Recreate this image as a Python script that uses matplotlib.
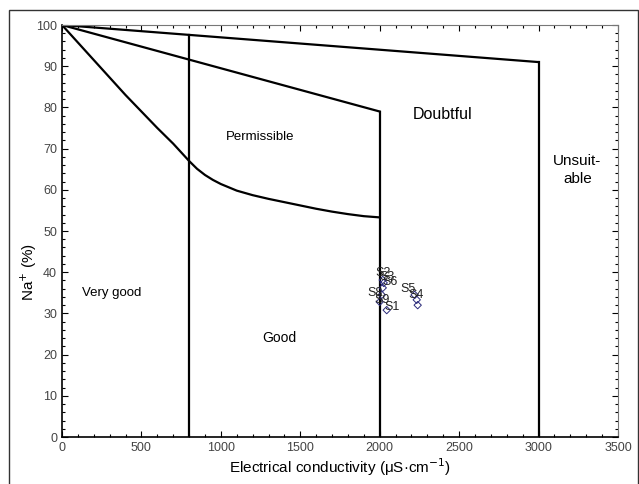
import numpy as np
import matplotlib.pyplot as plt
from matplotlib.patches import Rectangle
from matplotlib.ticker import MultipleLocator

plt.rcParams['font.family'] = ['Liberation Sans', 'DejaVu Sans']

# Boundary lines of the Wilcox-type diagram
top_x = [0, 3000]
top_y = [100, 91]
mid_x = [0, 2000]
mid_y = [100, 79]
low_x = [0, 200, 400, 600, 700, 750, 800, 850, 900, 950, 1000, 1100, 1200,
         1300, 1400, 1500, 1600, 1700, 1800, 1900, 2000]
low_y = [100, 91.5, 83, 75, 71.2, 69.1, 67, 65.1, 63.6, 62.4, 61.4, 59.8, 58.7,
         57.8, 57, 56.2, 55.4, 54.7, 54.1, 53.6, 53.3]

# vertical limits (x, top y)
vert_x = [800, 2000, 3000]
vert_top = [97.6, 78.8, 91]

# samples
sample_ec = [2019, 2025, 2019, 2013, 2000, 2044, 2220, 2233, 2239]
sample_na = [38.1, 37.4, 36.2, 34.5, 32.8, 30.8, 34.5, 33.3, 32.0]
sample_lbl = ['S2', 'S3', 'S6', 'S8', 'S9', 'S1', 'S5', 'S4', '']

fig = plt.figure(figsize=(6.39, 4.84), dpi=100)
fig.patches.append(Rectangle((9 / 639, -0.05), 629 / 639, 1.05 - 10 / 484,
                             transform=fig.transFigure, fill=False,
                             edgecolor='#333333', linewidth=1))
ax = fig.add_axes([62 / 639, 1 - 437 / 484, 556 / 639, 412 / 484])

ax.plot(top_x, top_y, color='black', lw=1.6)
ax.plot(mid_x, mid_y, color='black', lw=1.6)
ax.plot(low_x, low_y, color='black', lw=1.6)
for x, t in zip(vert_x, vert_top):
    ax.plot([x, x], [0, t], color='black', lw=1.6)

ax.scatter(sample_ec, sample_na, marker='D', s=14, facecolor='none',
           edgecolor='#2a2a7a', linewidth=0.7, zorder=3)
offsets = {'S2': (-5, 3), 'S3': (-3, 2), 'S6': (0, 2), 'S8': (-10, -1),
           'S9': (-4, -1), 'S1': (-2, 0), 'S5': (-10, 2), 'S4': (-6, 1)}
for x, y, l in zip(sample_ec, sample_na, sample_lbl):
    if l:
        dx, dy = offsets[l]
        ax.annotate(l, (x, y), xytext=(dx, dy), textcoords='offset points',
                    fontsize=9, color='#222222')

ax.text(1245, 72.8, 'Permissible', fontsize=9.5, ha='center', va='center')
ax.text(2396, 78.2, 'Doubtful', fontsize=11.5, ha='center', va='center')
ax.text(3245, 64.8, 'Unsuit-\nable', fontsize=11, ha='center', va='center',
        linespacing=1.3)
ax.text(315, 35, 'Very good', fontsize=9.5, ha='center', va='center')
ax.text(1371, 24, 'Good', fontsize=10, ha='center', va='center')

ax.set_xlim(0, 3500)
ax.set_ylim(0, 100)
ax.xaxis.set_major_locator(MultipleLocator(500))
ax.xaxis.set_minor_locator(MultipleLocator(100))
ax.yaxis.set_major_locator(MultipleLocator(10))
ax.yaxis.set_minor_locator(MultipleLocator(2))
ax.tick_params(which='both', direction='in', top=True, right=True,
               labelsize=9, labelcolor='#444444', width=0.8)
ax.tick_params(which='major', length=4)
ax.tick_params(which='minor', length=2)
for s in ['top', 'right']:
    ax.spines[s].set_color('#777777')
    ax.spines[s].set_linewidth(0.8)
for s in ['left', 'bottom']:
    ax.spines[s].set_linewidth(1.2)

ax.set_xlabel('Electrical conductivity (μS·cm$^{-1}$)', fontsize=11, labelpad=2)
ax.set_ylabel('Na$^{+}$ (%)', fontsize=11)
ax.yaxis.set_label_coords(-0.042, 0.4)

fig.savefig('out.png', dpi=100)
